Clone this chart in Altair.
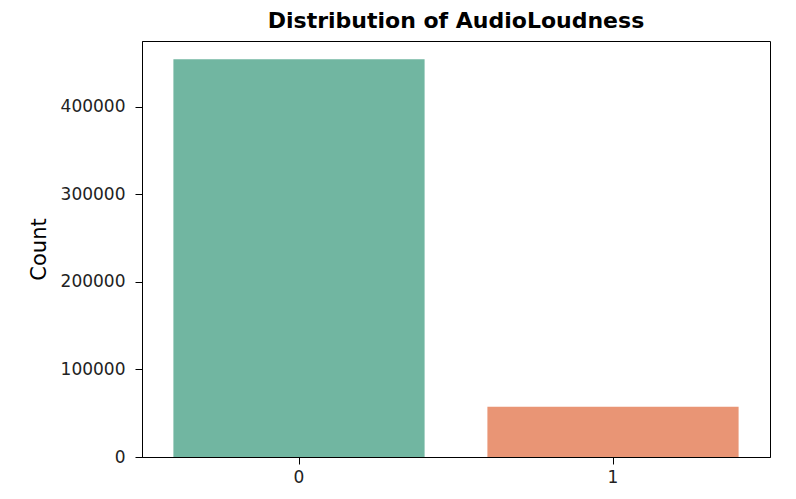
import altair as alt
import pandas as pd

categories = ["0", "1"]
counts = [454100, 57400]
colors = ["#71b6a1", "#e99575"]
y_ticks = [0, 100000, 200000, 300000, 400000]
y_max = 475000

df = pd.DataFrame({"AudioLoudness": categories, "Count": counts})

chart = alt.Chart(df).mark_bar().encode(
    x=alt.X("AudioLoudness:N", title=None,
            scale=alt.Scale(paddingInner=0.2, paddingOuter=0.1),
            axis=alt.Axis(labelAngle=0, labelFontSize=17, labelColor="#222",
                          tickColor="black", domainColor="black", tickSize=7,
                          labelPadding=5, labelFont="DejaVu Sans")),
    y=alt.Y("Count:Q", title="Count",
            scale=alt.Scale(domain=[0, y_max], nice=False),
            axis=alt.Axis(values=y_ticks, format="d",
                          grid=False, labelFontSize=17, labelColor="#222",
                          tickColor="black", domainColor="black", tickSize=7,
                          labelPadding=10, titleFontSize=21, titleFontWeight="normal",
                          titleColor="black", titlePadding=11, labelFont="DejaVu Sans",
                          titleFont="DejaVu Sans")),
    color=alt.Color("AudioLoudness:N", scale=alt.Scale(domain=categories, range=colors), legend=None),
).properties(
    width=628, height=416,
    title=alt.TitleParams("Distribution of AudioLoudness", fontSize=22, fontWeight="bold",
                          font="DejaVu Sans", color="black", offset=8, anchor="middle"),
    autosize=alt.AutoSizeParams(type="none"),
    padding={"left": 134, "top": 33, "right": 18, "bottom": 34},
).configure_view(stroke="black", strokeWidth=1)

chart.save("out.html", embed_options={"renderer": "svg", "actions": False})
